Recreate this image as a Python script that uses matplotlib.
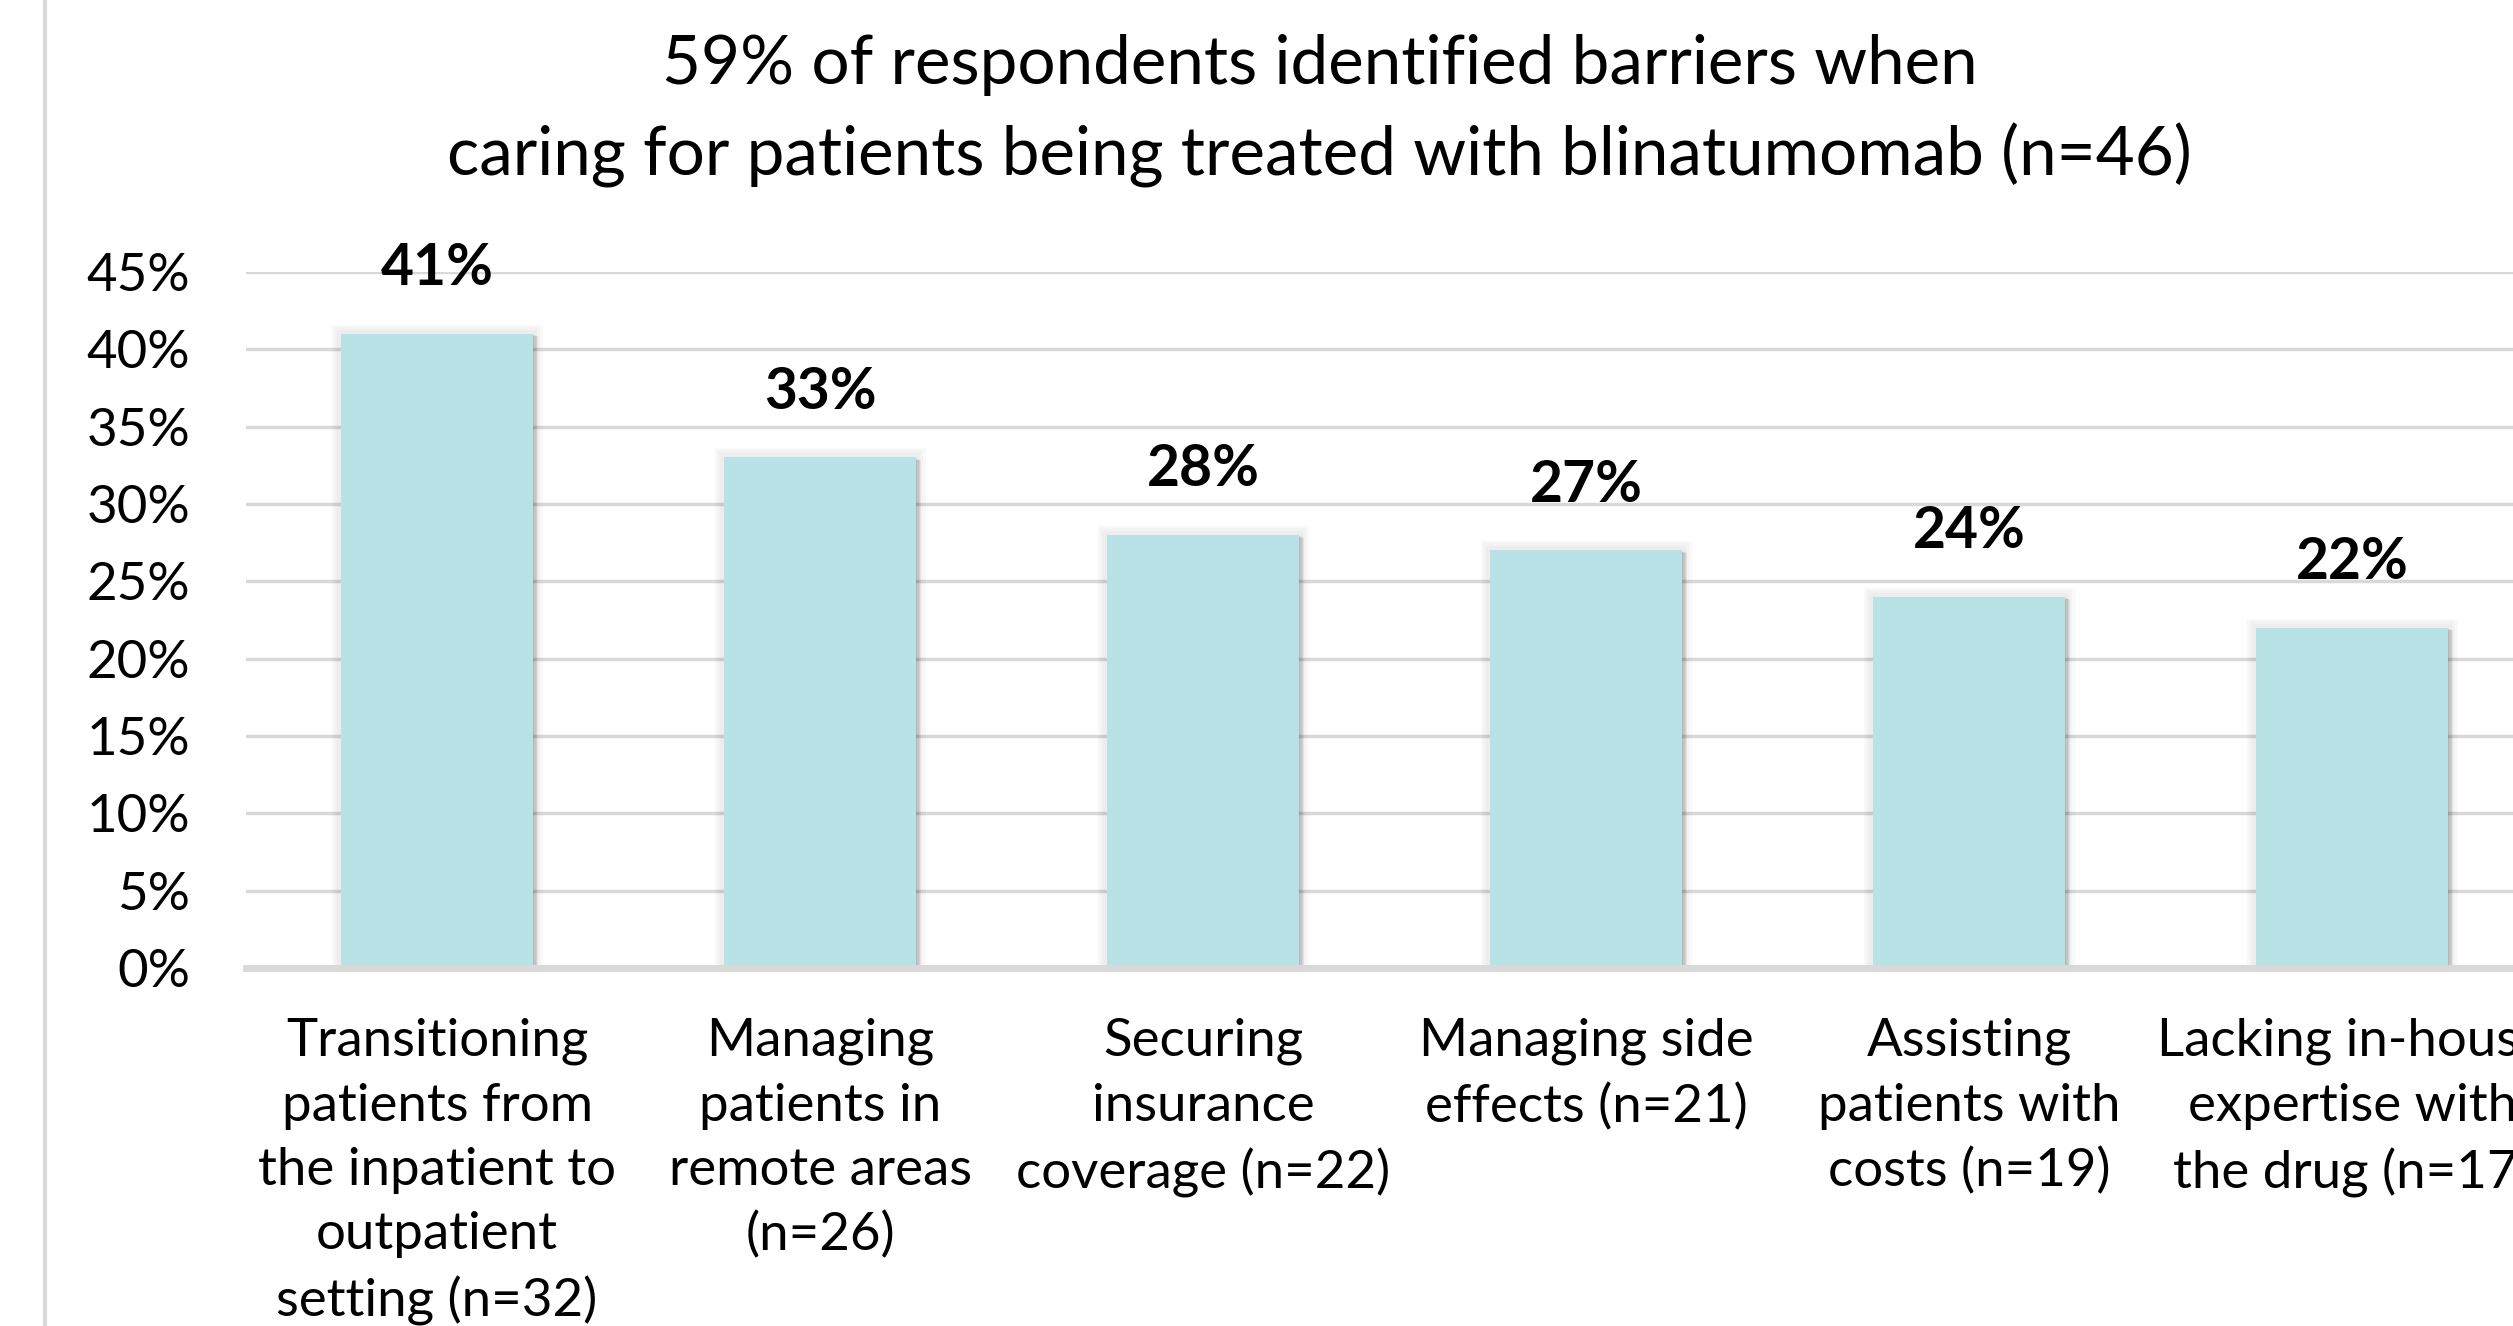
import matplotlib.pyplot as plt
import matplotlib.patheffects as pe
from matplotlib.ticker import PercentFormatter

plt.rcParams["font.family"] = ["Lato", "DejaVu Sans"]

# data
categories = [
    "Transitioning\npatients from\nthe inpatient to\noutpatient\nsetting (n=32)",
    "Managing\npatients in\nremote areas\n(n=26)",
    "Securing\ninsurance\ncoverage (n=22)",
    "Managing side\neffects (n=21)",
    "Assisting\npatients with\ncosts (n=19)",
    "Lacking in-house\nexpertise with\nthe drug (n=17)",
]
values = [41, 33, 28, 27, 24, 22]
yticks = [0, 5, 10, 15, 20, 25, 30, 35, 40, 45]
subtitle = ("59% of respondents identified barriers when\n"
            "caring for patients being treated with blinatumomab (n=46)")

bar_color = "#B9E2E6"
grid_color = "#D9D9D9"

fig = plt.figure(figsize=(25.13, 13.26), dpi=100)
# axes runs off the right edge like the cropped original
ax = fig.add_axes([0.0977, 0.270, 0.9145, 0.525])

# soft outer shadow, a bit heavier to the lower right
shadow = [pe.Stroke(linewidth=w, foreground="black", alpha=0.025) for w in (14, 10, 6)]
shadow += [pe.SimplePatchShadow(offset=(d, -d * 0.5), shadow_rgbFace="black", alpha=0.06)
           for d in (1, 2, 3, 4)]
shadow += [pe.Normal()]

x = range(len(values))
bars = ax.bar(x, values, width=0.5, color=bar_color, zorder=2)
for b in bars:
    b.set_path_effects(shadow)

for i, v in enumerate(values):
    ax.annotate(f"{v}%", (i, v), xytext=(0, 47), textcoords="offset points",
                ha="center", va="center", fontsize=41, fontweight="bold",
                annotation_clip=False)

ax.set_xlim(-0.5, len(values) - 0.5)
ax.set_ylim(0, 45)
ax.set_yticks(yticks)
ax.yaxis.set_major_formatter(PercentFormatter(decimals=0))
ax.set_xticks(list(x))
ax.set_xticklabels(categories, linespacing=1.45)

ax.grid(axis="y", color=grid_color, linewidth=2.5, zorder=0)
ax.set_axisbelow(True)
ax.axhline(0, color=grid_color, linewidth=5, zorder=3, clip_on=False)

for s in ax.spines.values():
    s.set_visible(False)
ax.tick_params(axis="both", length=0, labelsize=38, colors="black")
ax.tick_params(axis="y", pad=40)
ax.tick_params(axis="x", pad=36)

fig.text(0.525, 0.9165, subtitle, ha="center", va="center", fontsize=48.5,
         linespacing=1.5)

# thin frame line on the left edge of the slide
fig.add_artist(plt.Line2D([45 / 2513, 45 / 2513], [0, 1], color=grid_color,
                          linewidth=3, transform=fig.transFigure))

fig.savefig("out.png", dpi=100)
